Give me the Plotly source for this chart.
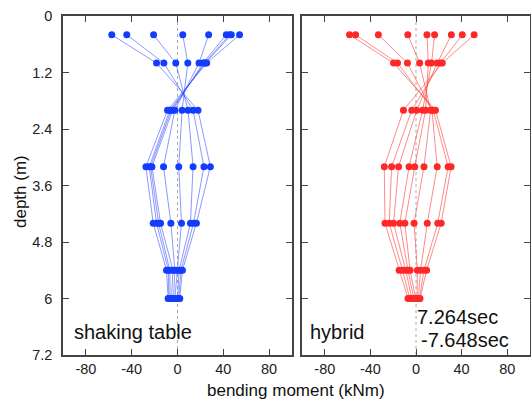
import plotly.graph_objects as go

# depths (m) of the measurement points
depths = [0.4, 1.0, 2.0, 3.2, 4.4, 5.4, 6.0]

# bending moment profiles (kNm), one list per time step, values at the depths above
shaking_table = [
    [-57.4, -18.3, 17.9, 28.7, 16.5, 4.3, 2.0],
    [-44.3, -11.9, 13.6, 23.1, 14.0, 3.0, 1.0],
    [-20.9, -1.5, 9.2, 13.6, 11.3, 1.4, 0.0],
    [4.6, 9.0, 4.0, 1.1, 3.5, 0.0, -2.3],
    [27.2, 18.8, -2.3, -12.2, -5.8, -2.3, -3.5],
    [42.6, 22.3, -4.3, -22.3, -14.8, -4.0, -5.2],
    [45.5, 23.5, -5.5, -23.5, -16.5, -6.7, -6.5],
    [47.0, 24.3, -6.7, -24.7, -18.3, -8.0, -7.5],
    [54.2, 25.5, -8.7, -27.6, -21.2, -9.6, -8.2],
]

hybrid = [
    [-58.3, -19.7, 17.1, 30.8, 22.1, 9.3, 3.5],
    [-53.0, -16.2, 15.1, 28.2, 19.1, 7.0, 3.0],
    [-33.0, -7.5, 14.0, 18.6, 9.9, 4.0, 2.0],
    [-7.2, 3.2, 12.8, 7.0, -1.7, 1.2, 1.0],
    [9.6, 10.8, 8.4, -1.1, -9.8, -5.2, -0.3],
    [16.3, 13.6, 5.8, -6.1, -14.2, -7.0, -2.0],
    [31.0, 18.6, 0.6, -15.3, -19.7, -9.0, -3.7],
    [40.6, 21.5, -3.7, -21.4, -23.5, -11.8, -5.5],
    [51.0, 23.0, -11.0, -27.8, -27.2, -14.8, -7.0],
]

y_ticks = [0, 1.2, 2.4, 3.6, 4.8, 6, 7.2]
y_tick_text = ["0", "1.2", "2.4", "3.6", "4.8", "6", "7.2"]
x_ticks = [-80, -40, 0, 40, 80]
x_tick_text = ["-80", "-40", "0", "40", "80"]

panel_labels = ["shaking table", "hybrid"]
time_labels = ["7.264sec", "-7.648sec"]

W, H = 531, 401
ML, MR, MT, MB = 63, 1, 16, 46

fig = go.Figure()

blue_line = "rgba(40,70,255,0.55)"
blue_mark = "rgb(20,60,255)"
red_line = "rgba(255,60,60,0.6)"
red_mark = "rgb(255,40,40)"

for prof in shaking_table:
    fig.add_trace(go.Scatter(x=prof, y=depths, xaxis="x", yaxis="y",
                             mode="lines+markers",
                             line=dict(color=blue_line, width=1),
                             marker=dict(color=blue_mark, size=7),
                             showlegend=False, hoverinfo="skip"))
for prof in hybrid:
    fig.add_trace(go.Scatter(x=prof, y=depths, xaxis="x2", yaxis="y2",
                             mode="lines+markers",
                             line=dict(color=red_line, width=1),
                             marker=dict(color=red_mark, size=7),
                             showlegend=False, hoverinfo="skip"))

frame = dict(showline=True, linecolor="#444", linewidth=1.5, mirror="allticks",
             ticks="inside", ticklen=6, tickwidth=1.2, tickcolor="#444",
             showgrid=False, zeroline=False, automargin=False,
             tickfont=dict(family="Liberation Sans, Arial, sans-serif", size=14.5, color="#222"))

pw = W - ML - MR
gap_l = (292 - ML) / pw
gap_r = (302 - ML) / pw

fig.update_layout(
    width=W, height=H,
    margin=dict(l=ML, r=MR, t=MT, b=MB),
    paper_bgcolor="white", plot_bgcolor="white",
    xaxis=dict(domain=[0, gap_l], range=[-100, 100], tickvals=x_ticks, ticktext=x_tick_text, anchor="y", **frame),
    xaxis2=dict(domain=[gap_r, 1], range=[-100, 100], tickvals=x_ticks, ticktext=x_tick_text, anchor="y2", **frame),
    yaxis=dict(domain=[0, 1], range=[7.2, 0], tickvals=y_ticks, ticktext=y_tick_text, anchor="x",
               ticklabelstandoff=6, **frame),
    yaxis2=dict(domain=[0, 1], range=[7.2, 0], tickvals=y_ticks, ticktext=y_tick_text, anchor="x2",
                showticklabels=False, **frame),
    shapes=[
        dict(type="line", xref="x", yref="y domain", x0=0, x1=0, y0=0, y1=1,
             line=dict(color="#aaa", width=1, dash="dot"), layer="below"),
        dict(type="line", xref="x2", yref="y2 domain", x0=0, x1=0, y0=0, y1=1,
             line=dict(color="#aaa", width=1, dash="dot"), layer="below"),
    ],
)

txt = dict(family="Liberation Sans, Arial, sans-serif", color="#111")
fig.add_annotation(text=panel_labels[0], xref="x", yref="y", x=-92, y=6.71,
                   xanchor="left", yanchor="middle", showarrow=False, font=dict(size=20, **txt))
fig.add_annotation(text=panel_labels[1], xref="x2", yref="y2", x=-95, y=6.71,
                   xanchor="left", yanchor="middle", showarrow=False, font=dict(size=20, **txt))
fig.add_annotation(text=time_labels[0], xref="x2", yref="y2", x=-1, y=6.39,
                   xanchor="left", yanchor="middle", showarrow=False, font=dict(size=20, **txt))
fig.add_annotation(text=time_labels[1], xref="x2", yref="y2", x=2.5, y=6.89,
                   xanchor="left", yanchor="middle", showarrow=False, font=dict(size=20, **txt))
fig.add_annotation(text="bending moment (kNm)", xref="paper", yref="paper",
                   x=(296 - ML) / pw, y=-(390.5 - (H - MB)) / (H - MT - MB),
                   xanchor="center", yanchor="middle", showarrow=False, font=dict(size=17, **txt))
fig.add_annotation(text="depth (m)", xref="paper", yref="paper", textangle=-90,
                   x=-(ML - 20) / pw, y=1 - (192 - MT) / (H - MT - MB),
                   xanchor="center", yanchor="middle", showarrow=False, font=dict(size=17, **txt))

fig.write_html("out.html", config={"displayModeBar": False},
               post_script="document.body.style.margin='0';document.body.style.overflow='hidden';")
